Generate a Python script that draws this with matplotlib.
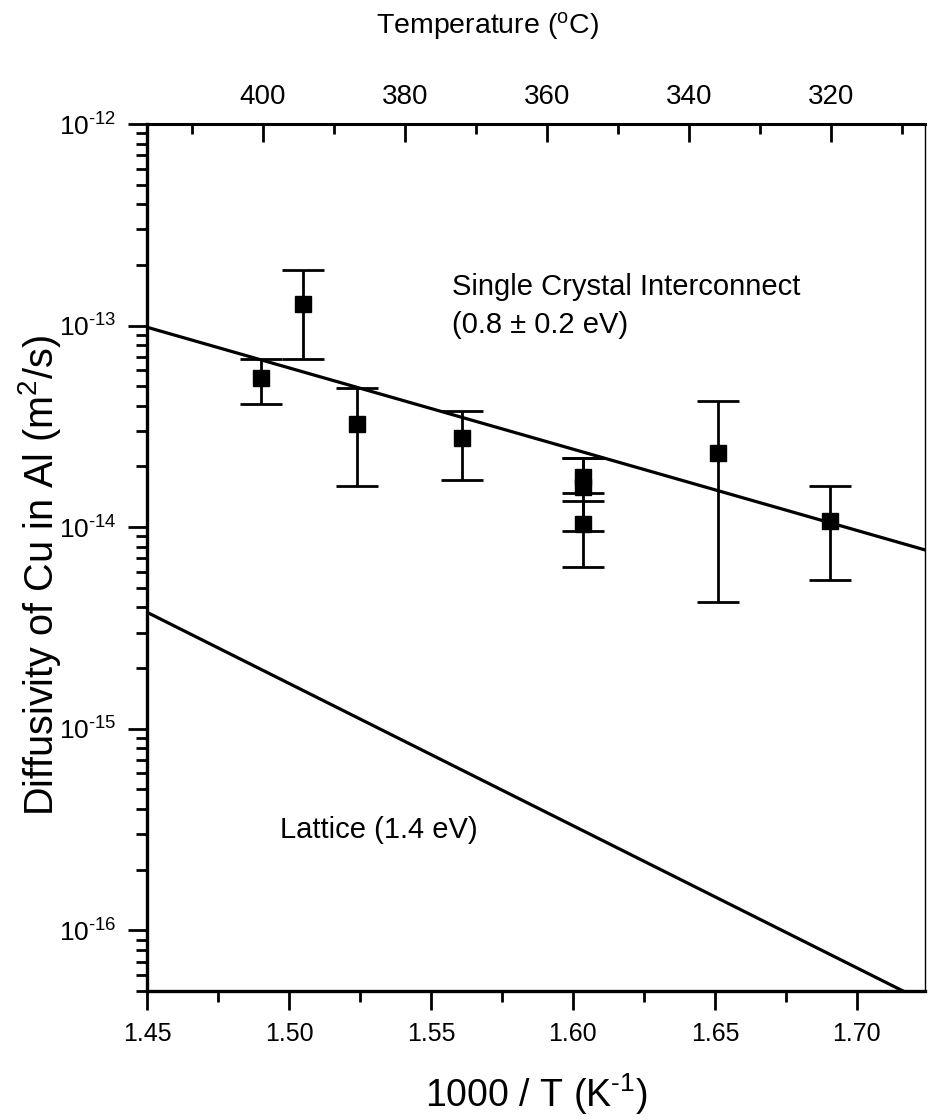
import numpy as np
import matplotlib
matplotlib.use("Agg")
import matplotlib.pyplot as plt
from matplotlib.ticker import MultipleLocator, FixedLocator, NullFormatter

plt.rcParams['font.family'] = ['Liberation Sans', 'DejaVu Sans']
plt.rcParams['mathtext.fontset'] = 'custom'
plt.rcParams['mathtext.rm'] = 'Liberation Sans'
plt.rcParams['mathtext.it'] = 'Liberation Sans:italic'
plt.rcParams['mathtext.bf'] = 'Liberation Sans:bold'

# measured diffusivities, 1000/T in 1/K, D in m^2/s
inv_T = [1.490, 1.505, 1.524, 1.561, 1.6035, 1.6035, 1.6035, 1.651, 1.6905]
D = [5.49e-14, 1.28e-13, 3.24e-14, 2.77e-14, 1.77e-14, 1.58e-14, 1.035e-14, 2.33e-14, 1.07e-14]
D_hi = [6.82e-14, 1.885e-13, 4.90e-14, 3.77e-14, 2.20e-14, 2.20e-14, 1.35e-14, 4.22e-14, 1.60e-14]
D_lo = [4.07e-14, 6.82e-14, 1.60e-14, 1.71e-14, 1.48e-14, 9.55e-15, 6.32e-15, 4.25e-15, 5.46e-15]

# Arrhenius lines: D = D0 exp(-Ea / kT)
fit_Ea = [0.8, 1.4]          # eV
fit_D0 = [6.89e-8, 6.44e-5]  # m^2/s
k_B = 8.617e-5

temp_ticks = [400, 380, 360, 340, 320]
decades = [1e-16, 1e-15, 1e-14, 1e-13, 1e-12]


def decade_label(v, pos):
    n = int(round(np.log10(v)))
    return "10$^{\\text{-}%d}$" % (-n)


fig = plt.figure(figsize=(9.32, 11.2), dpi=100)
ax = fig.add_axes([147/932, 1 - 991/1120, 778/932, 867/1120])

x = np.linspace(1.45, 1.724, 200)
for Ea, D0 in zip(fit_Ea, fit_D0):
    # x is 1000/T, so 1/T = x/1000
    ax.plot(x, D0 * np.exp(-Ea * (x / 1000) / k_B), color='black', lw=2.3)

D = np.array(D)
yerr = [D - np.array(D_lo), np.array(D_hi) - D]
ax.errorbar(inv_T, D, yerr=yerr, fmt='s', color='black', ms=12, elinewidth=2,
            capsize=15, capthick=2, zorder=3)

ax.set_yscale('log')
ax.set_xlim(1.45, 1.724)
ax.set_ylim(5e-17, 1e-12)
ax.xaxis.set_major_locator(MultipleLocator(0.05))
ax.xaxis.set_minor_locator(MultipleLocator(0.025))
ax.xaxis.set_major_formatter(plt.FuncFormatter(lambda v, p: f"{v:.2f}"))
minor_y = [m * d for d in [1e-17] + decades[:-1] for m in range(2, 10)]
minor_y = [v for v in minor_y if v >= 5e-17]
ax.yaxis.set_major_locator(FixedLocator(decades))
ax.yaxis.set_minor_locator(FixedLocator(minor_y))
ax.yaxis.set_major_formatter(plt.FuncFormatter(decade_label))
ax.yaxis.set_minor_formatter(NullFormatter())

ax.tick_params(axis='both', which='major', direction='out', length=14, width=2,
               labelsize=18, pad=8)
ax.tick_params(axis='y', which='major', labelsize=19)
ax.tick_params(axis='both', which='minor', direction='out', length=8, width=2)
ax.tick_params(top=False, right=False)
for side in ['left', 'bottom']:
    ax.spines[side].set_linewidth(2.4)
ax.spines['top'].set_linewidth(2.2)
ax.spines['right'].set_linewidth(1.0)

ax.set_xlabel("1000 / T (K$^{\\text{-}1}$)", fontsize=27)
ax.xaxis.set_label_coords(0.5, -0.093)
ax.xaxis.label.set_va('top')
ax.set_ylabel("Diffusivity of Cu in Al (m$^2$/s)", fontsize=28.5)
ax.yaxis.set_label_coords(-0.108, 0.479)

# temperature scale along the top
ax2 = ax.twiny()
ax2.set_xlim(416.34, 306.76)
ax2.set_xticks(temp_ticks)
ax2.xaxis.set_minor_locator(MultipleLocator(10))
ax2.tick_params(axis='x', which='major', direction='in', length=13, width=2,
                labelsize=20, pad=10)
ax2.tick_params(axis='x', which='minor', direction='in', length=7, width=2)
ax2.yaxis.set_visible(False)
for s in ax2.spines.values():
    s.set_visible(False)
fig.text(487/932, 1 - 26/1120, "Temperature ($^\\mathrm{o}$C)", fontsize=20.5,
         ha='center', va='center')

ax.text(0.392, 0.803, "Single Crystal Interconnect", transform=ax.transAxes,
        fontsize=21, va='baseline')
ax.text(0.392, 0.759, "(0.8 \u00b1 0.2 eV)", transform=ax.transAxes,
        fontsize=21, va='baseline')
ax.text(0.171, 0.1765, "Lattice (1.4 eV)", transform=ax.transAxes,
        fontsize=21, va='baseline')

fig.savefig("out.png", dpi=100)
